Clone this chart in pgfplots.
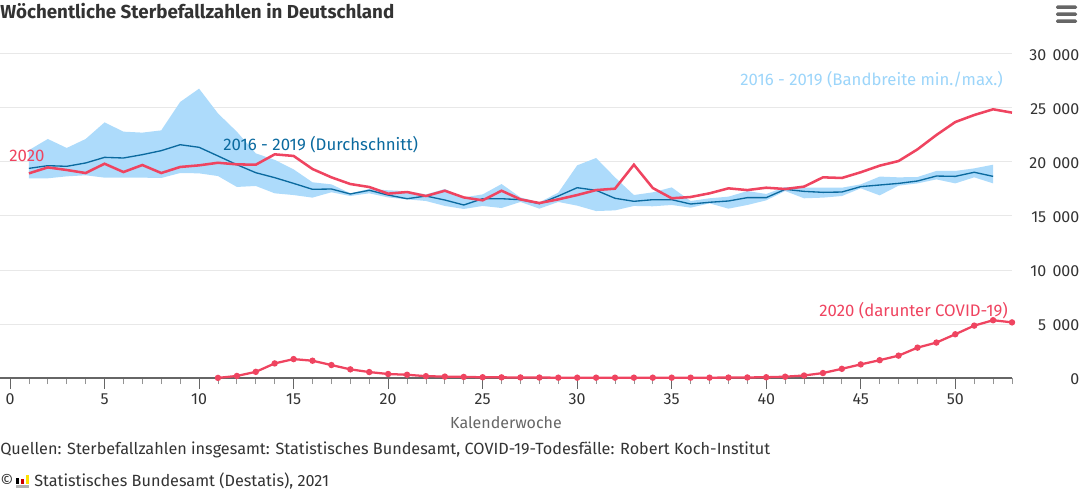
\documentclass[border=0pt]{standalone}
\usepackage{pgfplots}
\usepackage{pgfplotstable}
\usepackage{fontspec}
\pgfplotsset{compat=1.18}
\setmainfont{Fira Sans}
\definecolor{rot}{HTML}{EF4460}
\definecolor{dunkelblau}{HTML}{0B6A9F}
\definecolor{bandblau}{HTML}{ADDBFB}
\definecolor{bandtext}{HTML}{9CD5FA}
\definecolor{gitter}{HTML}{E8E8E8}
\definecolor{achse}{HTML}{666666}
\definecolor{schrift}{HTML}{333333}

% band 2016-2019: max going forward, then min going back
\pgfplotstableread{
w v
1 21100
2 22130
3 21300
4 22130
5 23670
6 22810
7 22720
8 22930
9 25560
10 26790
11 24500
12 22800
13 20800
14 20200
15 19320
16 18120
17 17930
18 17100
19 17500
20 17380
21 17300
22 17000
23 17500
24 16720
25 17000
26 17960
27 16720
28 16270
29 17160
30 19690
31 20370
32 18580
33 16940
34 17190
35 17650
36 16390
37 16640
38 16790
39 17310
40 17040
41 17685
42 17620
43 17620
44 17620
45 17930
46 18650
47 18580
48 18610
49 19170
50 19170
51 19410
52 19750
52 18020
51 18580
50 18020
49 18390
48 18020
47 17810
46 16910
45 17560
44 16850
43 16700
42 16640
41 17310
40 16450
39 16020
38 15680
37 16170
36 15770
35 16020
34 15900
33 15930
32 15520
31 15460
30 15960
29 16300
28 15680
27 16300
26 15740
25 15930
24 15650
23 15930
22 16390
21 16540
20 16720
19 17100
18 16850
17 17200
16 16700
15 16940
14 17100
13 17780
12 17690
11 18700
10 18950
9 18980
8 18520
7 18550
6 18550
5 18550
4 18770
3 18670
2 18490
1 18490
}\bandtab

% mean 2016-2019
\pgfplotstableread{
w v
1 19410
2 19660
3 19600
4 19910
5 20430
6 20370
7 20680
8 21050
9 21600
10 21360
11 20560
12 19750
13 19010
14 18550
15 18020
16 17470
17 17500
18 17040
19 17380
20 16940
21 16600
22 16850
23 16480
24 16020
25 16600
26 16600
27 16510
28 16140
29 16850
30 17620
31 17380
32 16640
33 16360
34 16510
35 16510
36 16110
37 16270
38 16390
39 16700
40 16700
41 17470
42 17280
43 17190
44 17220
45 17720
46 17870
47 18020
48 18240
49 18700
50 18670
51 19050
52 18670
}\mitteltab

% deaths 2020
\pgfplotstableread{
w v
1 18950
2 19500
3 19260
4 18980
5 19840
6 19070
7 19720
8 18980
9 19540
10 19690
11 19930
12 19780
13 19750
14 20710
15 20560
16 19350
17 18580
18 17960
19 17685
20 17070
21 17220
22 16850
23 17340
24 16720
25 16450
26 17340
27 16540
28 16200
29 16540
30 16940
31 17400
32 17530
33 19750
34 17590
35 16640
36 16760
37 17100
38 17560
39 17400
40 17620
41 17500
42 17720
43 18580
44 18520
45 19050
46 19660
47 20090
48 21170
49 22500
50 23700
51 24350
52 24880
53 24570
}\gesamttab

% of which covid-19
\pgfplotstableread{
w v
11 10
12 190
13 570
14 1350
15 1750
16 1600
17 1200
18 800
19 550
20 370
21 300
22 170
23 130
24 100
25 70
26 60
27 50
28 40
29 30
30 30
31 30
32 30
33 30
34 30
35 30
36 30
37 30
38 40
39 50
40 70
41 120
42 230
43 460
44 850
45 1260
46 1650
47 2070
48 2810
49 3280
50 4050
51 4850
52 5350
53 5150
}\covidtab

\begin{document}
\begin{tikzpicture}[font=\fontsize{12}{14}\selectfont]
\path[use as bounding box] (0pt,0pt) rectangle (810pt,375pt);
\begin{axis}[
  at={(0pt,91.5pt)},anchor=south west,
  scale only axis,width=759pt,height=243pt,
  xmin=-0.53,xmax=53,ymin=0,ymax=30000,
  clip=false,
  axis x line*=bottom,axis y line*=right,
  y axis line style={draw=none},
  x axis line style={draw=achse,line width=0.9pt,-},
  xtick={0,5,...,50},minor xtick={1,...,53},
  ytick={0,5000,...,30000},
  scaled y ticks=false,
  tick align=outside,
  major tick length=8pt,minor tick length=4.5pt,
  tick style={draw=achse,line width=0.75pt},
  minor tick style={draw=achse!70,line width=0.6pt},
  ytick style={draw=none},
  ymajorgrids,
  y grid style={draw=gitter,line width=0.75pt},
  /pgf/number format/assume math mode=true,
  /pgf/number format/1000 sep={\kern4.7pt},
  yticklabel style={anchor=east,xshift=46pt,yshift=-0.5pt,text=schrift},
  xticklabel style={text=schrift},
  xlabel={Kalenderwoche},
  xlabel style={at={(axis description cs:0.5,0)},anchor=center,yshift=-33.7pt,text=achse},
]
\addplot[fill=bandblau,draw=none] table[x=w,y=v]{\bandtab};
\addplot[dunkelblau,line width=1pt] table[x=w,y=v]{\mitteltab};
\addplot[rot,line width=1.9pt] table[x=w,y=v]{\gesamttab};
\addplot[rot,line width=1.7pt,mark=*,mark size=1.5pt] table[x=w,y=v]{\covidtab};
\end{axis}
\begin{scope}[x=0.75pt,y=0.75pt,text=schrift,font=\fontsize{12.17}{14}\selectfont]
\node[anchor=base west,inner sep=0,font=\fontsize{14.1}{16}\selectfont\bfseries] at (0,481) {Wöchentliche Sterbefallzahlen in Deutschland};
\node[anchor=base west,inner sep=0,text=rot,font=\fontsize{12.6}{14}\selectfont] at (9,338) {2020};
\node[anchor=base west,inner sep=0,text=dunkelblau,font=\fontsize{12.6}{14}\selectfont] at (223,349) {2016 - 2019 (Durchschnitt)};
\node[anchor=base east,inner sep=0,text=bandtext,font=\fontsize{12.55}{14}\selectfont] at (1003,414) {2016 - 2019 (Bandbreite min./max.)};
\node[anchor=base east,inner sep=0,text=rot,font=\fontsize{12.55}{14}\selectfont] at (1008,184) {2020 (darunter COVID-19)};
\node[anchor=base west,inner sep=0] at (0,46) {Quellen: Sterbefallzahlen insgesamt: Statistisches Bundesamt, COVID-19-Todesfälle: Robert Koch-Institut};
\node[anchor=base west,inner sep=0] at (0,14) {©};
\node[anchor=base west,inner sep=0] at (34,14) {Statistisches Bundesamt (Destatis), 2021};
% logo
\fill[black] (16,16) rectangle (19,22);
\fill[red!80!black] (21,16) rectangle (24,21);
\fill[yellow!85!orange] (26,16) rectangle (29,25);
\fill[gray!60] (16,12) rectangle (29,15);
% menu icon
\foreach \yy in {493,486,479}{\fill[achse,rounded corners=1pt] (1056,\yy-2) rectangle (1077,\yy+1.5);}
\end{scope}
\end{tikzpicture}
\end{document}
